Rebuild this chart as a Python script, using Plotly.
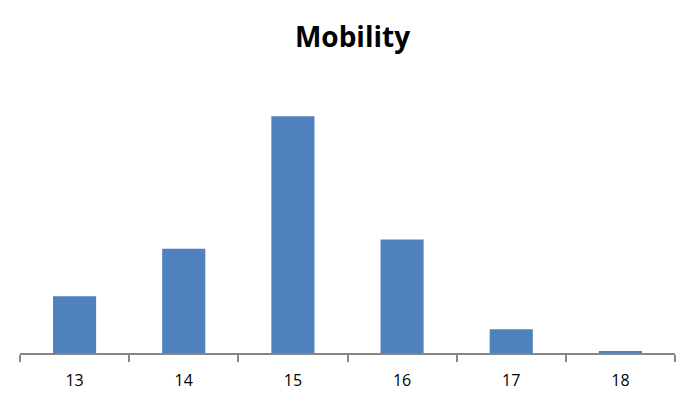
import plotly.graph_objects as go

ages = ["13", "14", "15", "16", "17", "18"]
mobility = [12, 22, 50, 24, 5, 0.4]

# the page body adds an 8px margin, so the figure is sized to fit inside it
W, H = 689, 408

fig = go.Figure()

fig.add_trace(go.Bar(
    x=ages,
    y=mobility,
    marker=dict(color="#4F81BD", line=dict(width=0)),
    width=0.395,
))

fig.update_layout(
    title=dict(
        text="<b>Mobility</b>",
        x=0.5, xanchor="center",
        y=1 - 29 / H, yref="container", yanchor="middle",
        font=dict(family="Open Sans, sans-serif", size=28, color="#000000"),
    ),
    width=W,
    height=H,
    margin=dict(l=12, r=22, t=61, b=63),
    paper_bgcolor="white",
    plot_bgcolor="white",
    showlegend=False,
)

fig.update_xaxes(
    type="category",
    showline=True,
    linecolor="#868686",
    linewidth=1.5,
    ticks="outside",
    tickson="boundaries",
    ticklen=7,
    tickwidth=1.5,
    tickcolor="#868686",
    ticklabelstandoff=12,
    showgrid=False,
    tickfont=dict(family="Open Sans, sans-serif", size=16, color="#000000"),
)

fig.update_yaxes(
    range=[0, 60],
    visible=False,
    showgrid=False,
    zeroline=False,
)

fig.write_html("out.html")
